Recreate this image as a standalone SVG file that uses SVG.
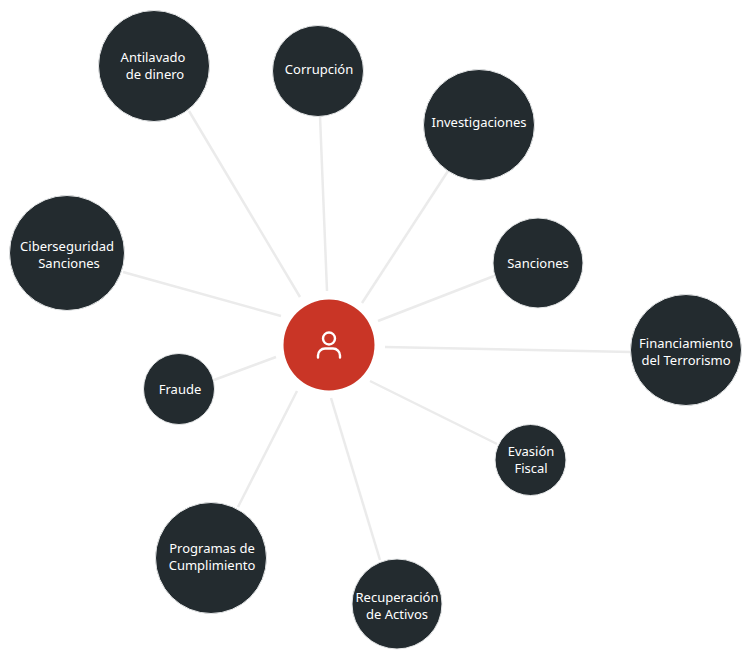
<svg xmlns="http://www.w3.org/2000/svg" width="750" height="658" viewBox="0 0 750 658">
<style>
.c{stroke:#ebebeb;stroke-width:2.5;fill:none}
.n{fill:#232b2f;stroke:#e6e8e9;stroke-width:1}
text{font-family:"Noto Sans","Liberation Sans",sans-serif;font-size:13px;fill:#fff;text-anchor:middle}
</style>
<rect width="750" height="658" fill="#fff"/>
<g id="connectors">
<line class="c" x1="189" y1="111" x2="300" y2="297"/>
<line class="c" x1="320" y1="116" x2="327" y2="291"/>
<line class="c" x1="448" y1="171" x2="362" y2="303"/>
<line class="c" x1="494" y1="276" x2="378" y2="321"/>
<line class="c" x1="631" y1="352" x2="385" y2="347"/>
<line class="c" x1="497" y1="444" x2="370" y2="381"/>
<line class="c" x1="380" y1="560" x2="331" y2="398"/>
<line class="c" x1="238" y1="507" x2="297" y2="391"/>
<line class="c" x1="214" y1="380" x2="276" y2="357"/>
<line class="c" x1="123" y1="272" x2="281" y2="316"/>
</g>
<g id="center"><circle cx="329" cy="345" r="45.5" fill="#c93526"/>
<circle cx="329" cy="338.500" r="6" fill="none" stroke="#fff" stroke-width="2.400"/>
<path d="M318 357.500v-2a7 7 0 0 1 7-7h8a7 7 0 0 1 7 7v2" fill="none" stroke="#fff" stroke-width="2.400" stroke-linecap="round"/></g>
<g id="n1"><circle class="n" cx="154" cy="66" r="55.5"/><text x="153" y="62">Antilavado</text><text x="155" y="79">de dinero</text></g>
<g id="n2"><circle class="n" cx="318" cy="71" r="45.5"/><text x="319" y="74">Corrupción</text></g>
<g id="n3"><circle class="n" cx="479" cy="125" r="55.5"/><text x="479" y="127">Investigaciones</text></g>
<g id="n4"><circle class="n" cx="538" cy="263" r="45"/><text x="538" y="268">Sanciones</text></g>
<g id="n5"><circle class="n" cx="686" cy="350" r="55.5"/><text x="686" y="348">Financiamiento</text><text x="686" y="365">del Terrorismo</text></g>
<g id="n6"><circle class="n" cx="530.500" cy="460" r="35.500"/><text x="531" y="456">Evasión</text><text x="531" y="473">Fiscal</text></g>
<g id="n7"><circle class="n" cx="397" cy="604" r="45"/><text x="397" y="602">Recuperación</text><text x="397" y="619">de Activos</text></g>
<g id="n8"><circle class="n" cx="211" cy="558" r="55.5"/><text x="212" y="553">Programas de</text><text x="212" y="570">Cumplimiento</text></g>
<g id="n9"><circle class="n" cx="179" cy="389" r="35.5"/><text x="180" y="394">Fraude</text></g>
<g id="n10"><circle class="n" cx="67" cy="253" r="57.5"/><text x="67" y="251">Ciberseguridad</text><text x="69" y="268">Sanciones</text></g>
</svg>
